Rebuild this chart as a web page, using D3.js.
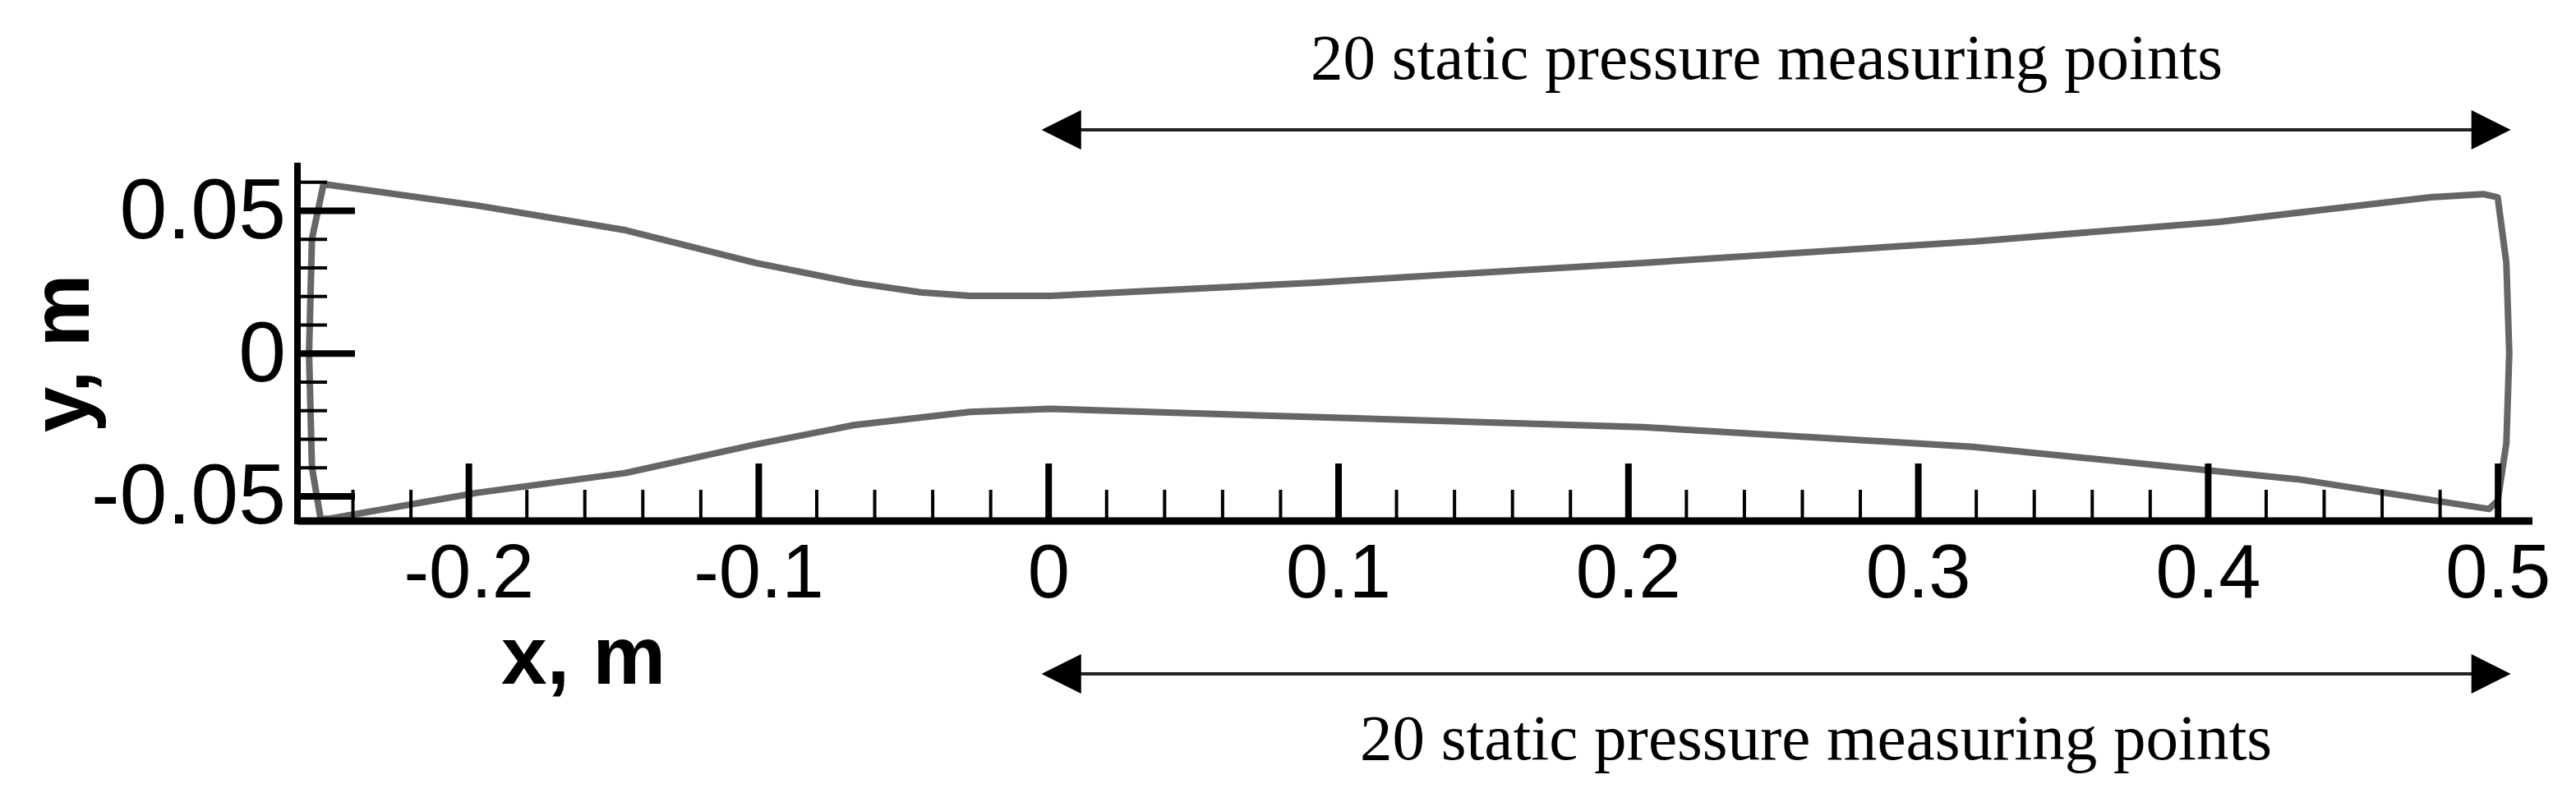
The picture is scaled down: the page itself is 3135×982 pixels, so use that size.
<!DOCTYPE html><html><head><meta charset="utf-8">
<script src="https://cdn.jsdelivr.net/npm/d3@7"></script>
<style>body{margin:0;background:#fff}</style></head><body>
<svg id="c" width="3135" height="982"></svg>
<script>
const xTicks=[-0.2,-0.1,0,0.1,0.2,0.3,0.4,0.5];
const xTickLabels=["-0.2","-0.1","0","0.1","0.2","0.3","0.4","0.5"];
const yTicks=[-0.05,0,0.05];
const yTickLabels=["-0.05","0","0.05"];
const contourX=[-0.250,-0.197,-0.146,-0.101,-0.067,-0.044,-0.027,0.001,0.035,0.092,0.205,0.319,0.404,0.477,0.495,0.500,0.503,0.504,0.503,0.500,0.497,0.432,0.319,0.205,0.092,0.001,-0.027,-0.067,-0.101,-0.146,-0.197,-0.248,-0.251,-0.254,-0.255,-0.254,-0.250];
const contourY=[0.0592,0.0517,0.0431,0.0316,0.0247,0.0213,0.0201,0.0201,0.0218,0.0247,0.0316,0.0391,0.0460,0.0546,0.0557,0.0546,0.0316,0,-0.0316,-0.0517,-0.0546,-0.0443,-0.0328,-0.0259,-0.0224,-0.0195,-0.0206,-0.0252,-0.0320,-0.0420,-0.0489,-0.0580,-0.058,-0.04,0,0.04,0.0592];
const annotation="20 static pressure measuring points";

const svg=d3.select("#c");
const x=d3.scaleLinear().domain([-0.259,0.512]).range([362,3082]);
const y=d3.scaleLinear().domain([-0.0588,0.0667]).range([634,198]);
const x0=362,y0=634;
const pts=contourX.map((v,i)=>[v,contourY[i]]);
svg.append("path").attr("d",d3.line().x(d=>x(d[0])).y(d=>y(d[1]))(pts))
 .attr("fill","none").attr("stroke","#666").attr("stroke-width",8).attr("stroke-linejoin","round");

const xMinor=d3.range(-0.24,0.501,0.02).map(v=>+v.toFixed(2));
const yMinor=d3.range(-0.05,0.0601,0.01).map(v=>+v.toFixed(2));
function styleAx(g){g.select(".domain").remove();g.selectAll("line").attr("stroke","#000");}
svg.append("g").attr("transform",`translate(0,${y0})`).call(d3.axisBottom(x).tickValues(xMinor).tickSize(-38).tickFormat(""))
 .call(styleAx).selectAll("line").attr("stroke-width",4);
svg.append("g").attr("transform",`translate(0,${y0})`).call(d3.axisBottom(x).tickValues(xTicks).tickSize(-70).tickPadding(28).tickFormat((d,i)=>xTickLabels[i]))
 .call(styleAx).call(g=>{g.selectAll("line").attr("stroke-width",8);g.selectAll("text").attr("font-family","Liberation Sans, Arial").attr("font-size",92).attr("fill","#000");});
svg.append("g").attr("transform",`translate(${x0},0)`).call(d3.axisLeft(y).tickValues(yMinor).tickSize(-36).tickFormat(""))
 .call(styleAx).selectAll("line").attr("stroke-width",4);
svg.append("g").attr("transform",`translate(${x0},0)`).call(d3.axisLeft(y).tickValues(yTicks).tickSize(-70).tickPadding(14).tickFormat((d,i)=>yTickLabels[i]))
 .call(styleAx).call(g=>{g.selectAll("line").attr("stroke-width",8);g.selectAll("text").attr("font-family","Liberation Sans, Arial").attr("font-size",104).attr("fill","#000");});
svg.append("line").attr("x1",x0).attr("x2",3082).attr("y1",y0).attr("y2",y0).attr("stroke","#000").attr("stroke-width",9);
svg.append("line").attr("x1",x0).attr("x2",x0).attr("y1",198).attr("y2",y0+4).attr("stroke","#000").attr("stroke-width",8);

svg.append("text").attr("x",610).attr("y",832).attr("font-family","Liberation Sans, Arial").attr("font-weight","bold").attr("font-size",100).text("x, m");
svg.append("text").attr("transform","translate(108,430) rotate(-90)").attr("text-anchor","middle").attr("font-family","Liberation Sans, Arial").attr("font-weight","bold").attr("font-size",100).text("y, m");

function arrow(yy){
  const a=x(0)-8,b=x(0.5)+16;
  svg.append("line").attr("x1",a+40).attr("x2",b-40).attr("y1",yy).attr("y2",yy).attr("stroke","#222").attr("stroke-width",4);
  svg.append("path").attr("d",`M${a},${yy}L${a+48},${yy-24}L${a+48},${yy+24}Z`).attr("fill","#000");
  svg.append("path").attr("d",`M${b},${yy}L${b-48},${yy-24}L${b-48},${yy+24}Z`).attr("fill","#000");
}
arrow(158);arrow(820);
svg.append("text").attr("x",2150).attr("y",96).attr("text-anchor","middle").attr("font-family","Liberation Serif").attr("font-size",79).text(annotation);
svg.append("text").attr("x",2210).attr("y",924).attr("text-anchor","middle").attr("font-family","Liberation Serif").attr("font-size",79).text(annotation);
</script></body></html>
